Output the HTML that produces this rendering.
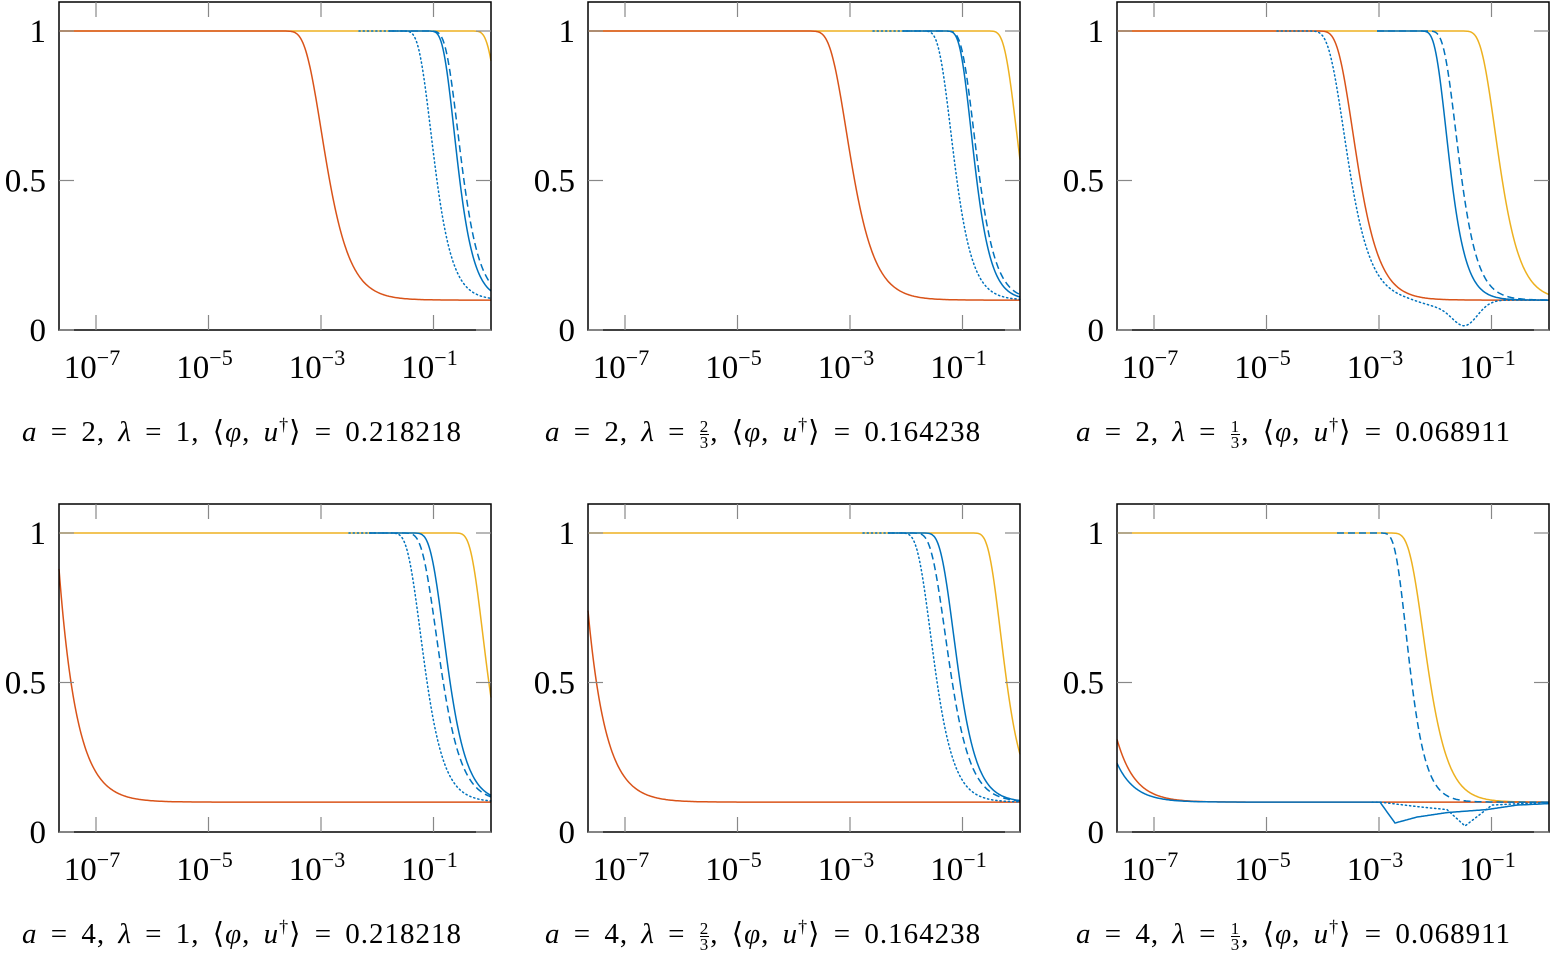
<!DOCTYPE html>
<html><head><meta charset="utf-8"><style>
html,body{margin:0;padding:0;background:#fff;width:1550px;height:958px;overflow:hidden}
svg{position:absolute;left:0;top:0}
.cap{position:absolute;font-family:"Liberation Serif",serif;font-size:29px;white-space:nowrap;color:#000;word-spacing:5px;letter-spacing:1px}
.cap i{font-style:italic}
.fr{display:inline-block;vertical-align:middle;text-align:center;font-size:17px;line-height:15px;margin:0 1px}
.fr span{display:block}
.fr span:first-child{border-bottom:1px solid #000}
</style></head><body>
<svg id="s" width="1550" height="958" xmlns="http://www.w3.org/2000/svg"></svg>
<div class="cap" style="left:22px;top:414px"><i>a</i> = 2, <i>λ</i> = 1, ⟨<i>φ</i>, <i>u</i><sup style="font-size:18px">†</sup>⟩ = 0.218218</div>
<div class="cap" style="left:545px;top:414px"><i>a</i> = 2, <i>λ</i> = <span class="fr"><span>2</span><span>3</span></span>, ⟨<i>φ</i>, <i>u</i><sup style="font-size:18px">†</sup>⟩ = 0.164238</div>
<div class="cap" style="left:1076px;top:414px"><i>a</i> = 2, <i>λ</i> = <span class="fr"><span>1</span><span>3</span></span>, ⟨<i>φ</i>, <i>u</i><sup style="font-size:18px">†</sup>⟩ = 0.068911</div>
<div class="cap" style="left:22px;top:916px"><i>a</i> = 4, <i>λ</i> = 1, ⟨<i>φ</i>, <i>u</i><sup style="font-size:18px">†</sup>⟩ = 0.218218</div>
<div class="cap" style="left:545px;top:916px"><i>a</i> = 4, <i>λ</i> = <span class="fr"><span>2</span><span>3</span></span>, ⟨<i>φ</i>, <i>u</i><sup style="font-size:18px">†</sup>⟩ = 0.164238</div>
<div class="cap" style="left:1076px;top:916px"><i>a</i> = 4, <i>λ</i> = <span class="fr"><span>1</span><span>3</span></span>, ⟨<i>φ</i>, <i>u</i><sup style="font-size:18px">†</sup>⟩ = 0.068911</div>
<script>
const s=document.getElementById('s');let h='';
const Y='#EDB120',R='#D95319',B='#0072BD';
const G=(x,c,w)=>Math.exp(-Math.pow((x-c)/w,2));
const A=(m,k)=>x=>{const z=(x-m)/k+0.367;return 0.1+0.9*(1-Math.exp(-Math.exp(-z)));};
const E=(v,k)=>{const g=(v-0.1)/0.9;const z=-Math.log(-Math.log(1-g));return A(432-(z-0.367)*k,k);};
const D=(a)=>x=>0.1+(a-0.1)*Math.exp(-x/18);
const lin=(pts)=>x=>{for(let i=0;i<pts.length-1;i++){const[a,b]=pts[i],[c,d]=pts[i+1];if(x<=c)return b+(d-b)*(x-a)/(c-a);}return pts[pts.length-1][1];};
function panel(X,T,curves){
  const W=432,H=328;
  const px=x=>X+x,py=v=>T+328-v*299;
  for(const c of curves){
    let p='';const x0=c.s||0;
    for(let x=x0;x<=W;x+=1){p+=(x==x0?'M':'L')+px(x).toFixed(1)+','+py(c.f(x)).toFixed(1)}
    let da=c.d=='dash'?' stroke-dasharray="7,4"':c.d=='dot'?' stroke-dasharray="1.2,3" stroke-linecap="round"':'';
    h+=`<path d="${p}" fill="none" stroke="${c.c}" stroke-width="1.5"${da}/>`;
  }
  h+=`<rect x="${X}" y="${T}" width="${W}" height="${H}" fill="none" stroke="#000" stroke-width="1.5"/>`;
  const xt=[37,149.5,262,374.5];const lb=['−7','−5','−3','−1'];
  xt.forEach((t,i)=>{h+=`<line x1="${X+t}" y1="${T+H}" x2="${X+t}" y2="${T+H-15}" stroke="#888" stroke-width="1.2"/><line x1="${X+t}" y1="${T}" x2="${X+t}" y2="${T+15}" stroke="#888" stroke-width="1.2"/>`;
    h+=`<text x="${X+t-4}" y="${T+H+48}" font-family="Liberation Serif,serif" font-size="33" text-anchor="middle">10<tspan dy="-13" font-size="22">${lb[i]}</tspan></text>`});
  [[0,'0'],[0.5,'0.5'],[1,'1']].forEach(([v,l])=>{const y=py(v);
    h+=`<line x1="${X}" y1="${y}" x2="${X+15}" y2="${y}" stroke="#888" stroke-width="1.2"/><line x1="${X+W}" y1="${y}" x2="${X+W-15}" y2="${y}" stroke="#888" stroke-width="1.2"/>`;
    h+=`<text x="${X-13}" y="${y+11}" font-family="Liberation Serif,serif" font-size="33" text-anchor="end">${l}</text>`});
}
panel(59,2,[{c:Y,f:E(0.9,12)},{c:R,f:A(268,16)},{c:B,d:'dot',s:300,f:A(376,12)},{c:B,d:'dash',s:330,f:A(403,12)},{c:B,s:330,f:A(399,11)}]);
panel(588,2,[{c:Y,f:E(0.57,12)},{c:R,f:A(264,16)},{c:B,d:'dot',s:285,f:A(367,12)},{c:B,d:'dash',s:315,f:A(390,12)},{c:B,s:315,f:A(387,11)}]);
panel(1117,2,[{c:Y,f:A(383,14)},{c:R,f:A(241,15)},{c:B,d:'dot',s:160,f:x=>A(232,15)(x)-0.08*G(x,348,18)-0.02*G(x,320,25)},{c:B,d:'dash',s:260,f:A(343,12)},{c:B,s:260,f:A(333,11)}]);
panel(59,504,[{c:Y,f:E(0.45,12)},{c:R,f:D(0.88)},{c:B,d:'dot',s:290,f:A(366,13)},{c:B,d:'dash',s:310,f:A(382,14)},{c:B,s:310,f:A(389,13)}]);
panel(588,504,[{c:Y,f:E(0.26,12)},{c:R,f:D(0.74)},{c:B,d:'dot',s:275,f:A(347,13)},{c:B,d:'dash',s:300,f:A(362,14)},{c:B,s:300,f:A(370,13)}]);
panel(1117,504,[{c:Y,f:A(311,14)},{c:R,f:D(0.31)},{c:B,d:'dot',s:255,f:lin([[0,0.1],[263,0.1],[300,0.085],[330,0.075],[348,0.02],[375,0.09],[432,0.1]])},{c:B,d:'dash',s:220,f:A(293,11)},{c:B,f:x=>x<263?D(0.23)(x):lin([[263,0.1],[278,0.03],[300,0.05],[330,0.065],[370,0.075],[400,0.09],[432,0.095]])(x)}]);
s.innerHTML=h;
</script>
</body></html>
